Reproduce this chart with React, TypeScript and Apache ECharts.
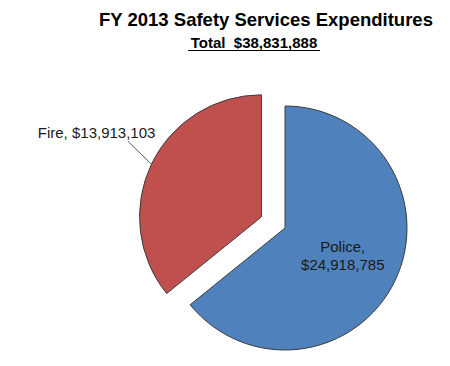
import React, { useEffect, useRef } from "react";
import * as echarts from "echarts";

const categories = ["Police", "Fire"];
const values = [24918785, 13913103];
const colors = ["#4F81BD", "#C0504D"];
const titleText = "FY 2013 Safety Services Expenditures";
const subtitleText = "Total  $38,831,888";

const fmt = (v: number) => "$" + v.toLocaleString("en-US");

export default function App() {
  const ref = useRef<HTMLDivElement>(null);
  useEffect(() => {
    if (!ref.current) return;
    const chart = echarts.init(ref.current, undefined, { renderer: "svg" });
    const font = '"Liberation Sans", Arial, sans-serif';
    chart.setOption({
      animation: false,
      backgroundColor: "#ffffff",
      graphic: [
        {
          type: "text",
          x: 266,
          y: 19,
          style: {
            text: titleText,
            align: "center",
            verticalAlign: "middle",
            font: `bold 18.5px ${font}`,
            fill: "#000000",
          },
        },
        {
          type: "text",
          x: 254,
          y: 42,
          style: {
            text: subtitleText,
            align: "center",
            verticalAlign: "middle",
            font: `bold 15px ${font}`,
            fill: "#000000",
          },
        },
        {
          type: "line",
          shape: { x1: 188, y1: 50.5, x2: 320, y2: 50.5 },
          style: { stroke: "#000000", lineWidth: 1.2 },
        },
      ],
      series: [
        {
          type: "pie",
          center: [285, 228],
          radius: 122,
          startAngle: 90,
          clockwise: true,
          selectedMode: "single",
          selectedOffset: 26,
          emphasis: { disabled: true },
          itemStyle: { borderColor: "#3c3c3c", borderWidth: 1 },
          labelLayout: (params: any) => {
            if (params.dataIndex !== 1) return {};
            const out: any = { dx: 37, dy: -23 };
            const p0 = params.labelLinePoints && params.labelLinePoints[0];
            if (p0) {
              const p1 = [p0[0] - 23.5, p0[1] - 23];
              out.labelLinePoints = [p0, p1, p1];
            }
            return out;
          },
          data: categories.map((name, i) => ({
            name,
            value: values[i],
            selected: i === 1,
            itemStyle: { color: colors[i] },
            label:
              i === 0
                ? {
                    show: true,
                    position: "inside",
                    formatter: `${name},\n${fmt(values[i])}`,
                    fontFamily: font,
                    fontSize: 15,
                    lineHeight: 18,
                    color: "#1a1a1a",
                  }
                : {
                    show: true,
                    position: "outside",
                    formatter: `${name}, ${fmt(values[i])}`,
                    fontFamily: font,
                    fontSize: 15,
                    color: "#1a1a1a",
                  },
            labelLine:
              i === 0
                ? { show: false }
                : { show: true, length: 20, length2: 10, lineStyle: { color: "#595959", width: 1 } },
          })),
        },
      ],
    });
    return () => chart.dispose();
  }, []);
  return (
    <div
      ref={ref}
      style={{ position: "fixed", left: 0, top: 0, width: 450, height: 366 }}
    />
  );
}
